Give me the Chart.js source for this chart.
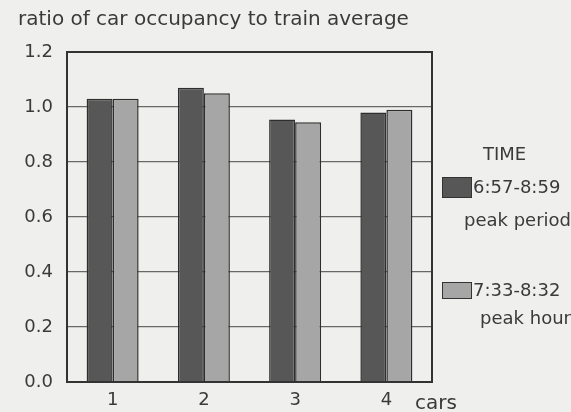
<!DOCTYPE html>
<html>
<head>
<meta charset="utf-8">
<script src="https://cdn.jsdelivr.net/npm/chart.js@4.4.1/dist/chart.umd.min.js"></script>
<style>
  html, body { margin: 0; padding: 0; background: #efefed; }
  #wrap { position: relative; width: 571px; height: 412px; }
  #legend { position: absolute; left: 442px; top: 0; width: 129px;
            font-family: "DejaVu Sans", sans-serif; font-size: 18px; color: #3a3a3a; }
  #legend div { position: absolute; white-space: nowrap; line-height: 20px; }
  #legend .box { width: 30px; border: 1.5px solid #333; box-sizing: border-box; }
</style>
</head>
<body>
<div id="wrap">
  <canvas id="chart" width="571" height="412"></canvas>
  <div id="legend"></div>
</div>
<script>
// car numbers along the train
const cars = ['1', '2', '3', '4'];
// ratio of each car's occupancy to the train average
const peakPeriod = [1.03, 1.07, 0.955, 0.98];   // 6:57-8:59
const peakHour   = [1.03, 1.05, 0.945, 0.99];   // 7:33-8:32
const seriesTimes = ['6:57-8:59', '7:33-8:32'];
const seriesNames = ['peak period', 'peak hour'];
const seriesColors = ['#575757', '#a6a6a6'];

const FONT = '"DejaVu Sans", sans-serif';

// frame round the plot area and the "cars" label next to the x ticks
const framePlugin = {
  id: 'frame',
  afterDraw(chart) {
    const { ctx, chartArea: a } = chart;
    ctx.save();
    ctx.strokeStyle = '#333';
    ctx.lineWidth = 2;
    ctx.strokeRect(a.left, a.top, a.right - a.left, a.bottom - a.top);
    ctx.fillStyle = '#3a3a3a';
    ctx.font = '20px ' + FONT;
    ctx.textBaseline = 'middle';
    ctx.fillText('cars', a.right - 17, a.bottom + 22);
    ctx.restore();
  }
};

new Chart(document.getElementById('chart'), {
  type: 'bar',
  data: {
    labels: cars,
    datasets: [peakPeriod, peakHour].map((d, i) => ({
      label: seriesTimes[i] + ' ' + seriesNames[i],
      data: d,
      backgroundColor: seriesColors[i],
      borderColor: '#2e2e2e',
      borderWidth: 1.5,
      borderSkipped: 'bottom',
      categoryPercentage: 0.57,
      barPercentage: 1.0
    }))
  },
  options: {
    responsive: false,
    animation: false,
    layout: { padding: { left: 18, right: 139, top: 2, bottom: 2 } },
    plugins: {
      legend: { display: false },
      tooltip: { enabled: false },
      title: {
        display: true,
        text: 'ratio of car occupancy to train average',
        align: 'start',
        color: '#3a3a3a',
        font: { family: FONT, size: 20, weight: 'normal' },
        padding: { top: 6, bottom: 20 }
      }
    },
    scales: {
      x: {
        afterFit(axis) { axis.height = 28; },
        grid: { display: false, drawTicks: false },
        border: { display: false },
        ticks: { color: '#3a3a3a', font: { family: FONT, size: 18 }, padding: 8 }
      },
      y: {
        min: 0, max: 1.2,
        afterFit(axis) { axis.width = 49; },
        grid: { color: '#686868', lineWidth: 1.3, drawTicks: false },
        border: { display: false },
        ticks: {
          stepSize: 0.2,
          color: '#3a3a3a',
          padding: 14,
          font: { family: FONT, size: 18 },
          callback: v => v.toFixed(1)
        }
      }
    }
  },
  plugins: [framePlugin]
});

// legend to the right of the plot
const legendRows = [
  { top: 177, boxTop: 177, boxH: 21, text: seriesTimes[0], sub: seriesNames[0], subTop: 210 },
  { top: 280, boxTop: 282, boxH: 17, text: seriesTimes[1], sub: seriesNames[1], subTop: 308 }
];
let html = '<div style="left:41px;top:144px;">TIME</div>';
legendRows.forEach((r, i) => {
  html += '<div class="box" style="left:0;top:' + r.boxTop + 'px;height:' + r.boxH +
          'px;background:' + seriesColors[i] + '"></div>';
  html += '<div style="left:31px;top:' + r.top + 'px;">' + r.text + '</div>';
  html += '<div style="right:0;top:' + r.subTop + 'px;">' + r.sub + '</div>';
});
document.getElementById('legend').innerHTML = html;
</script>
</body>
</html>
